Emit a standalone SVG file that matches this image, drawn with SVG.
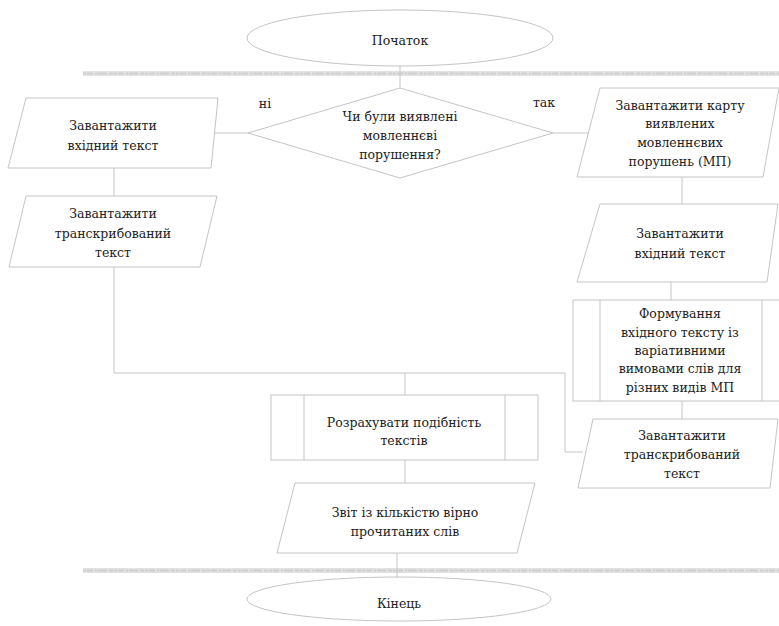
<svg xmlns="http://www.w3.org/2000/svg" width="779" height="626" viewBox="0 0 779 626">
<defs>
<style>
.s{fill:#fff;stroke:#c4c4c4;stroke-width:1}
.c{fill:none;stroke:#c4c4c4;stroke-width:1}
.t{font-size:12.5px;fill:#222;text-anchor:middle}
.band{fill:#e2e2e2}
.bandtex{stroke:#cfcfcf;stroke-width:2;stroke-dasharray:3 1 6 2 2 1 9 2 4 1}
</style>
</defs>
<rect width="779" height="626" fill="#fff"/>
<g id="bands">
<rect class="band" x="83" y="71" width="696" height="5"/>
<line class="bandtex" x1="83" y1="73.5" x2="779" y2="73.5"/>
<rect class="band" x="83" y="568" width="696" height="5"/>
<line class="bandtex" x1="83" y1="570.5" x2="779" y2="570.5"/>
</g>
<g id="connectors">
<line class="c" x1="400" y1="66" x2="400" y2="88"/>
<line class="c" x1="248" y1="133" x2="213" y2="133"/>
<line class="c" x1="553" y1="133" x2="589" y2="133"/>
<polyline class="c" points="114,168 114,373 565,373 565,452 583,452"/>
<line class="c" x1="405" y1="373" x2="405" y2="395"/>
<line class="c" x1="682" y1="177" x2="682" y2="204"/>
<line class="c" x1="671" y1="282" x2="671" y2="300"/>
<line class="c" x1="682" y1="401" x2="682" y2="419"/>
<line class="c" x1="405" y1="460" x2="405" y2="483"/>
<line class="c" x1="397" y1="553" x2="397" y2="577"/>
</g>
<g font-family="DejaVu Serif, serif">
<g id="start">
<ellipse class="s" cx="400" cy="38" rx="153" ry="28"/>
<text class="t" x="400" y="45">Початок</text>
</g>
<g id="decision">
<polygon class="s" points="400,88 553,133 400,178 248,133"/>
<text class="t" x="400" y="121">Чи були виявлені</text>
<text class="t" x="400" y="140">мовленнєві</text>
<text class="t" x="400" y="159">порушення?</text>
</g>
<g id="label-no"><text class="t" x="265" y="108">ні</text></g>
<g id="label-yes"><text class="t" x="544" y="107">так</text></g>
<g id="load-input-left">
<polygon class="s" points="26,98 218,98 211,168 8,168"/>
<text class="t" x="113" y="130">Завантажити</text>
<text class="t" x="113" y="150">вхідний текст</text>
</g>
<g id="load-transcribed-left">
<polygon class="s" points="26,196 217,196 200,267 9,267"/>
<text class="t" x="113" y="218">Завантажити</text>
<text class="t" x="113" y="238">транскрибований</text>
<text class="t" x="113" y="257">текст</text>
</g>
<g id="load-map">
<polygon class="s" points="600,88 779,88 763,177 577,177"/>
<text class="t" x="680" y="110">Завантажити карту</text>
<text class="t" x="680" y="128">виявлених</text>
<text class="t" x="680" y="147">мовленнєвих</text>
<text class="t" x="680" y="166">порушень (МП)</text>
</g>
<g id="load-input-right">
<polygon class="s" points="600,204 778,204 767,282 577,282"/>
<text class="t" x="680" y="238">Завантажити</text>
<text class="t" x="680" y="258">вхідний текст</text>
</g>
<g id="form-input">
<rect class="s" x="573" y="300" width="210" height="101"/>
<line class="c" x1="600" y1="300" x2="600" y2="401"/>
<line class="c" x1="762" y1="300" x2="762" y2="401"/>
<text class="t" x="680" y="318">Формування</text>
<text class="t" x="680" y="337">вхідного тексту із</text>
<text class="t" x="680" y="355">варіативними</text>
<text class="t" x="680" y="373">вимовами слів для</text>
<text class="t" x="680" y="392">різних видів МП</text>
</g>
<g id="load-transcribed-right">
<polygon class="s" points="593,419 778,419 770,488 578,488"/>
<text class="t" x="682" y="440">Завантажити</text>
<text class="t" x="682" y="459">транскрибований</text>
<text class="t" x="682" y="478">текст</text>
</g>
<g id="compute">
<rect class="s" x="271" y="395" width="267" height="65"/>
<line class="c" x1="304" y1="395" x2="304" y2="460"/>
<line class="c" x1="505" y1="395" x2="505" y2="460"/>
<text class="t" x="404" y="427">Розрахувати подібність</text>
<text class="t" x="404" y="445">текстів</text>
</g>
<g id="report">
<polygon class="s" points="295,483 535,483 517,553 277,553"/>
<text class="t" x="405" y="517">Звіт із кількістю вірно</text>
<text class="t" x="405" y="536">прочитаних слів</text>
</g>
<g id="end">
<ellipse class="s" cx="399" cy="599" rx="152" ry="22"/>
<text class="t" x="399" y="608">Кінець</text>
</g>
</g>
</svg>
